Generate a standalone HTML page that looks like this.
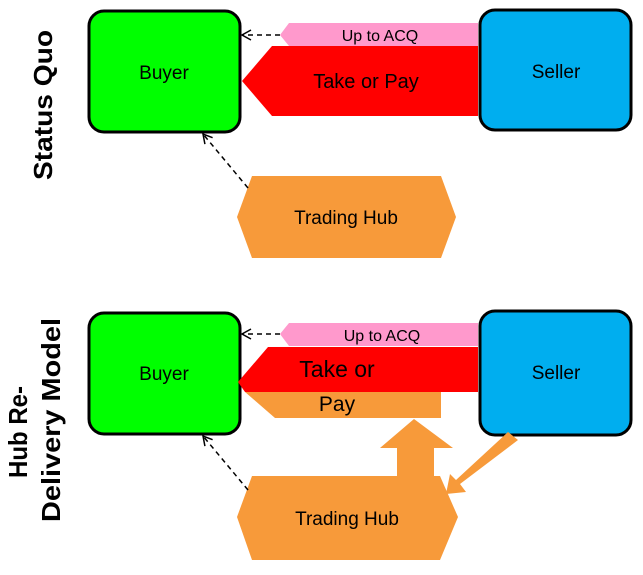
<!DOCTYPE html>
<html><head><meta charset="utf-8"><style>body{margin:0;background:#fff}</style></head><body>
<svg width="643" height="570" viewBox="0 0 643 570" xmlns="http://www.w3.org/2000/svg" font-family="Liberation Sans, sans-serif">
<defs><marker id="ah" markerWidth="12" markerHeight="12" refX="10" refY="6" orient="auto" markerUnits="userSpaceOnUse"><path d="M1,1 L10,6 L1,11" fill="none" stroke="#000" stroke-width="1.5"/></marker></defs>
<!-- TOP -->
<text transform="translate(52,105) rotate(-90)" text-anchor="middle" font-weight="bold" font-size="26" textLength="150" lengthAdjust="spacingAndGlyphs">Status Quo</text>
<rect x="89" y="11" width="151" height="121" rx="15" fill="#00ff00" stroke="#000" stroke-width="3"/>
<text x="164" y="79" text-anchor="middle" font-size="19">Buyer</text>
<rect x="480" y="10" width="151" height="120" rx="15" fill="#00aeef" stroke="#000" stroke-width="3"/>
<text x="556" y="78" text-anchor="middle" font-size="19">Seller</text>
<polygon points="289,23 478,23 478,46 289,46 280,35" fill="#ff99cc"/>
<text x="380" y="41" text-anchor="middle" font-size="16">Up to ACQ</text>
<polygon points="272,46 478,46 478,116 272,116 242,81" fill="#ff0000"/>
<text x="366" y="88" text-anchor="middle" font-size="20">Take or Pay</text>
<line x1="280" y1="35" x2="242" y2="35" stroke="#000" stroke-width="1.5" stroke-dasharray="5,4" marker-end="url(#ah)"/>
<polygon points="252,176 441,176 456,217 441,258 252,258 237,217" fill="#f79a3a"/>
<text x="346" y="224" text-anchor="middle" font-size="19">Trading Hub</text>
<line x1="248" y1="188" x2="203" y2="134" stroke="#000" stroke-width="1.5" stroke-dasharray="5,4" marker-end="url(#ah)"/>
<!-- BOTTOM -->
<text transform="translate(27,432) rotate(-90)" text-anchor="middle" font-weight="bold" font-size="26" textLength="92" lengthAdjust="spacingAndGlyphs">Hub Re-</text>
<text transform="translate(60,420) rotate(-90)" text-anchor="middle" font-weight="bold" font-size="26" textLength="204" lengthAdjust="spacingAndGlyphs">Delivery Model</text>
<rect x="89" y="313" width="151" height="121" rx="15" fill="#00ff00" stroke="#000" stroke-width="3"/>
<text x="164" y="380" text-anchor="middle" font-size="19">Buyer</text>
<rect x="480" y="311" width="151" height="124" rx="15" fill="#00aeef" stroke="#000" stroke-width="3"/>
<text x="556" y="379" text-anchor="middle" font-size="19">Seller</text>
<polygon points="289,323 478,323 478,346 289,346 280,334" fill="#ff99cc"/>
<text x="382" y="341" text-anchor="middle" font-size="16">Up to ACQ</text>
<polygon points="245,392 441,392 441,418 275,418" fill="#f79a3a"/>
<polygon points="268,347 478,347 478,392 245,392 238,382" fill="#ff0000"/>
<text x="337" y="377" text-anchor="middle" font-size="23">Take or</text>
<text x="337" y="411" text-anchor="middle" font-size="21">Pay</text>
<line x1="280" y1="334" x2="242" y2="334" stroke="#000" stroke-width="1.5" stroke-dasharray="5,4" marker-end="url(#ah)"/>
<polygon points="252,476 440,476 458,517 440,560 252,560 237,517" fill="#f79a3a"/>
<polygon points="397,480 397,448 380,448 414,419 453,448 434,448 434,480" fill="#f79a3a"/>
<polygon points="508,432 518,440 460,484 466,492 446,494 450,474 456,480" fill="#f79a3a"/>
<text x="347" y="525" text-anchor="middle" font-size="19">Trading Hub</text>
<line x1="248" y1="490" x2="203" y2="436" stroke="#000" stroke-width="1.5" stroke-dasharray="5,4" marker-end="url(#ah)"/>
</svg>
</body></html>
